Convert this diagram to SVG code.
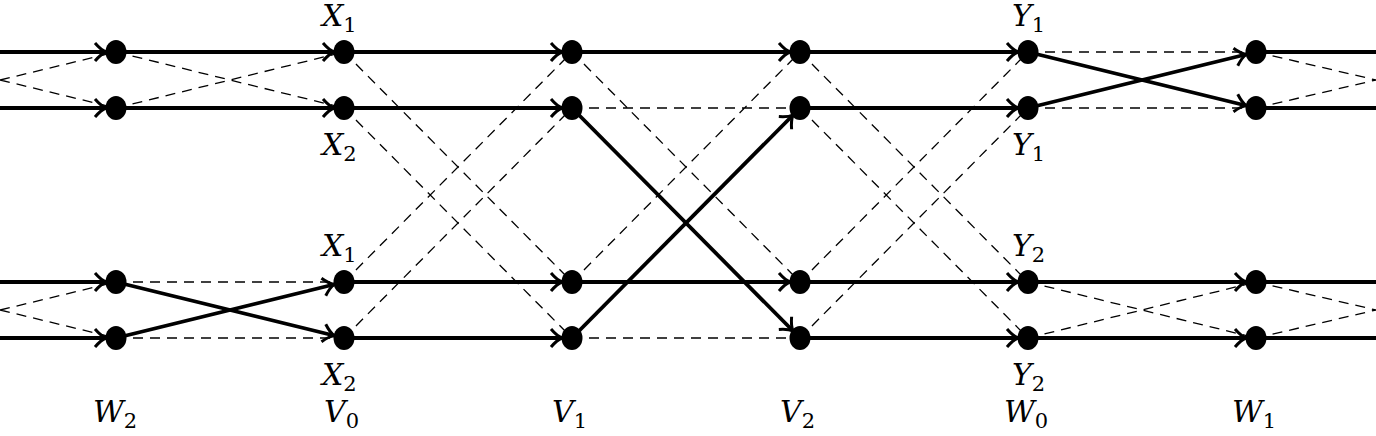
<svg xmlns="http://www.w3.org/2000/svg" width="1376" height="436" viewBox="0 0 1376 436">
<style>
.s{stroke:#000;stroke-width:3.8;fill:none}
.a{marker-end:url(#ar)}
.d{stroke:#000;stroke-width:1.3;stroke-dasharray:10 7;fill:none}
.n{fill:#000}
text{font-family:"DejaVu Serif","Liberation Serif",serif;font-style:italic;font-size:30px;fill:#000}
.sub{font-style:normal;font-size:21px}
</style>
<defs>
<marker id="ar" markerUnits="userSpaceOnUse" orient="auto" markerWidth="40" markerHeight="40" refX="0" refY="0" viewBox="-30 -20 40 40" overflow="visible">
<path d="M-21,-9 Q-15,-2 -10,0 Q-15,2 -21,9" stroke="#000" stroke-width="3" fill="none"/>
</marker>
</defs>
<g id="connectors">
<path class="d" d="M0,80 L116,52 M0,80 L116,108 M116,52 L344,108 M116,108 L344,52"/>
<path class="d" d="M0,310 L116,282 M0,310 L116,338 M116,282 L344,282 M116,338 L344,338"/>
<path class="d" d="M344,52 L572,282 M344,108 L572,338 M344,282 L572,52 M344,338 L572,108"/>
<path class="d" d="M572,52 L800,282 M572,282 L800,52 M572,108 L800,108 M572,338 L800,338"/>
<path class="d" d="M800,52 L1028,282 M800,108 L1028,338 M800,282 L1028,52 M800,338 L1028,108"/>
<path class="d" d="M1028,52 L1256,52 M1028,108 L1256,108 M1028,282 L1256,338 M1028,338 L1256,282"/>
<path class="d" d="M1256,52 L1376,80 M1256,108 L1376,80 M1256,282 L1376,310 M1256,338 L1376,310"/>
<line class="s a" x1="0" y1="52" x2="116" y2="52"/>
<line class="s a" x1="116" y1="52" x2="344" y2="52"/>
<line class="s a" x1="344" y1="52" x2="572" y2="52"/>
<line class="s a" x1="572" y1="52" x2="800" y2="52"/>
<line class="s a" x1="800" y1="52" x2="1028" y2="52"/>
<line class="s" x1="1256" y1="52" x2="1376" y2="52"/>
<line class="s a" x1="0" y1="108" x2="116" y2="108"/>
<line class="s a" x1="116" y1="108" x2="344" y2="108"/>
<line class="s a" x1="344" y1="108" x2="572" y2="108"/>
<line class="s a" x1="800" y1="108" x2="1028" y2="108"/>
<line class="s" x1="1256" y1="108" x2="1376" y2="108"/>
<line class="s a" x1="0" y1="282" x2="116" y2="282"/>
<line class="s a" x1="344" y1="282" x2="572" y2="282"/>
<line class="s a" x1="572" y1="282" x2="800" y2="282"/>
<line class="s a" x1="800" y1="282" x2="1028" y2="282"/>
<line class="s a" x1="1028" y1="282" x2="1256" y2="282"/>
<line class="s" x1="1256" y1="282" x2="1376" y2="282"/>
<line class="s a" x1="0" y1="338" x2="116" y2="338"/>
<line class="s a" x1="344" y1="338" x2="572" y2="338"/>
<line class="s a" x1="800" y1="338" x2="1028" y2="338"/>
<line class="s a" x1="1028" y1="338" x2="1256" y2="338"/>
<line class="s" x1="1256" y1="338" x2="1376" y2="338"/>
<line class="s a" x1="116" y1="282" x2="344" y2="338"/>
<line class="s a" x1="116" y1="338" x2="344" y2="282"/>
<line class="s a" x1="572" y1="108" x2="800" y2="338"/>
<line class="s a" x1="572" y1="338" x2="800" y2="108"/>
<line class="s a" x1="1028" y1="52" x2="1256" y2="108"/>
<line class="s a" x1="1028" y1="108" x2="1256" y2="52"/>
</g>
<g id="nodes">
<g id="W2"><ellipse class="n" cx="116" cy="52" rx="10.5" ry="12"/><ellipse class="n" cx="116" cy="108" rx="10.5" ry="12"/><ellipse class="n" cx="116" cy="282" rx="10.5" ry="12"/><ellipse class="n" cx="116" cy="338" rx="10.5" ry="12"/></g>
<g id="V0"><ellipse class="n" cx="344" cy="52" rx="10.5" ry="12"/><ellipse class="n" cx="344" cy="108" rx="10.5" ry="12"/><ellipse class="n" cx="344" cy="282" rx="10.5" ry="12"/><ellipse class="n" cx="344" cy="338" rx="10.5" ry="12"/></g>
<g id="V1"><ellipse class="n" cx="572" cy="52" rx="10.5" ry="12"/><ellipse class="n" cx="572" cy="108" rx="10.5" ry="12"/><ellipse class="n" cx="572" cy="282" rx="10.5" ry="12"/><ellipse class="n" cx="572" cy="338" rx="10.5" ry="12"/></g>
<g id="V2"><ellipse class="n" cx="800" cy="52" rx="10.5" ry="12"/><ellipse class="n" cx="800" cy="108" rx="10.5" ry="12"/><ellipse class="n" cx="800" cy="282" rx="10.5" ry="12"/><ellipse class="n" cx="800" cy="338" rx="10.5" ry="12"/></g>
<g id="W0"><ellipse class="n" cx="1028" cy="52" rx="10.5" ry="12"/><ellipse class="n" cx="1028" cy="108" rx="10.5" ry="12"/><ellipse class="n" cx="1028" cy="282" rx="10.5" ry="12"/><ellipse class="n" cx="1028" cy="338" rx="10.5" ry="12"/></g>
<g id="W1"><ellipse class="n" cx="1256" cy="52" rx="10.5" ry="12"/><ellipse class="n" cx="1256" cy="108" rx="10.5" ry="12"/><ellipse class="n" cx="1256" cy="282" rx="10.5" ry="12"/><ellipse class="n" cx="1256" cy="338" rx="10.5" ry="12"/></g>
</g>
<g id="labels">
<text x="322" y="26">X<tspan class="sub" dy="6">1</tspan></text>
<text x="322" y="155">X<tspan class="sub" dy="6">2</tspan></text>
<text x="322" y="256">X<tspan class="sub" dy="6">1</tspan></text>
<text x="322" y="385">X<tspan class="sub" dy="6">2</tspan></text>
<text x="1012" y="26">Y<tspan class="sub" dy="6">1</tspan></text>
<text x="1012" y="155">Y<tspan class="sub" dy="6">1</tspan></text>
<text x="1012" y="256">Y<tspan class="sub" dy="6">2</tspan></text>
<text x="1012" y="385">Y<tspan class="sub" dy="6">2</tspan></text>
<text x="93" y="422">W<tspan class="sub" dy="6">2</tspan></text>
<text x="324" y="422">V<tspan class="sub" dy="6">0</tspan></text>
<text x="552" y="422">V<tspan class="sub" dy="6">1</tspan></text>
<text x="780" y="422">V<tspan class="sub" dy="6">2</tspan></text>
<text x="1004" y="422">W<tspan class="sub" dy="6">0</tspan></text>
<text x="1232" y="422">W<tspan class="sub" dy="6">1</tspan></text>
</g>
</svg>
